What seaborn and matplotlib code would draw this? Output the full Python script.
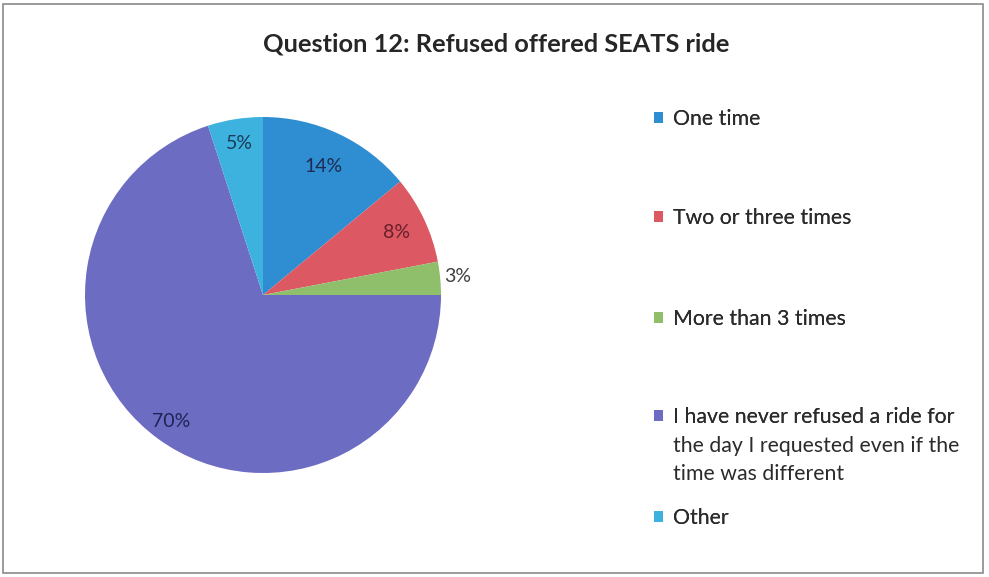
import matplotlib
matplotlib.use("Agg")
import matplotlib.pyplot as plt
import seaborn as sns
import numpy as np
from matplotlib.patches import Rectangle, Patch

categories = ["One time", "Two or three times", "More than 3 times",
              "I have never refused a ride for\nthe day I requested even if the\ntime was different",
              "Other"]
values = [14, 8, 3, 70, 5]
pct_labels = ["14%", "8%", "3%", "70%", "5%"]
colors = ["#2f8ed2", "#dc5862", "#90bf6c", "#6c6cc3", "#3db2de"]
label_radius = [0.80, 0.83, 1.10, 0.88, 0.86]
label_colors = ["#1d2c52", "#6a1f2a", "#404040", "#1d2456", "#1d3c5a"]

sns.set_theme(style="white")
plt.rcParams['font.family'] = ['Lato', 'DejaVu Sans']

W, H = 989, 577
fig = plt.figure(figsize=(W / 100, H / 100), dpi=100)
fig.patch.set_facecolor("white")

cx, cy, r = 263, 295, 178
ax = fig.add_axes([(cx - r) / W, (H - cy - r) / H, 2 * r / W, 2 * r / H])
wedges, _ = ax.pie(values, colors=colors, startangle=90, counterclock=False,
                   wedgeprops=dict(linewidth=0))
ax.set_aspect("equal")
ax.set_xlim(-1, 1)
ax.set_ylim(-1, 1)

for w, lab, rf, lc in zip(wedges, pct_labels, label_radius, label_colors):
    ang = np.deg2rad((w.theta1 + w.theta2) / 2)
    ax.text(rf * np.cos(ang), rf * np.sin(ang), lab, ha="center", va="center",
            fontsize=14, color=lc)

fig.text(496 / W, 1 - 44 / H, "Question 12: Refused offered SEATS ride", ha="center",
         va="center", fontsize=18.3, fontweight="bold", color="#262626")

# legend: one entry per legend box (Excel-like irregular spacing)
fs = 15.3
fs_px = fs * 100 / 72
entry_y = [119, 218, 319, 417, 518]
line_step = 28.5
legs = []
for cat, col, ey in zip(categories, colors, entry_y):
    lines = cat.split("\n")
    leg = fig.legend([Patch(facecolor=col, edgecolor="none")], [lines[0]],
                     loc="center left", bbox_to_anchor=(654 / W, 1 - ey / H),
                     frameon=False, fontsize=fs, handlelength=9 / fs_px,
                     handleheight=9 / fs_px, handletextpad=10 / fs_px,
                     borderpad=0, borderaxespad=0, labelcolor="#2b2b2b")
    fig.add_artist(leg)
    legs.append((leg, lines[1:], ey))

fig.canvas.draw()
for leg, rest, ey in legs:
    if rest:
        bb = leg.get_texts()[0].get_window_extent()
        x0 = bb.x0 / W
        for i, ln in enumerate(rest, start=1):
            fig.text(x0, 1 - (ey + i * line_step) / H, ln, ha="left", va="center",
                     fontsize=fs, color="#2b2b2b")

fig.add_artist(Rectangle((3 / W, 4 / H), 980 / W, 569 / H, transform=fig.transFigure,
                         fill=False, edgecolor="#8a8a8a", linewidth=1.2))

fig.savefig("out.png", dpi=100, facecolor="white")
